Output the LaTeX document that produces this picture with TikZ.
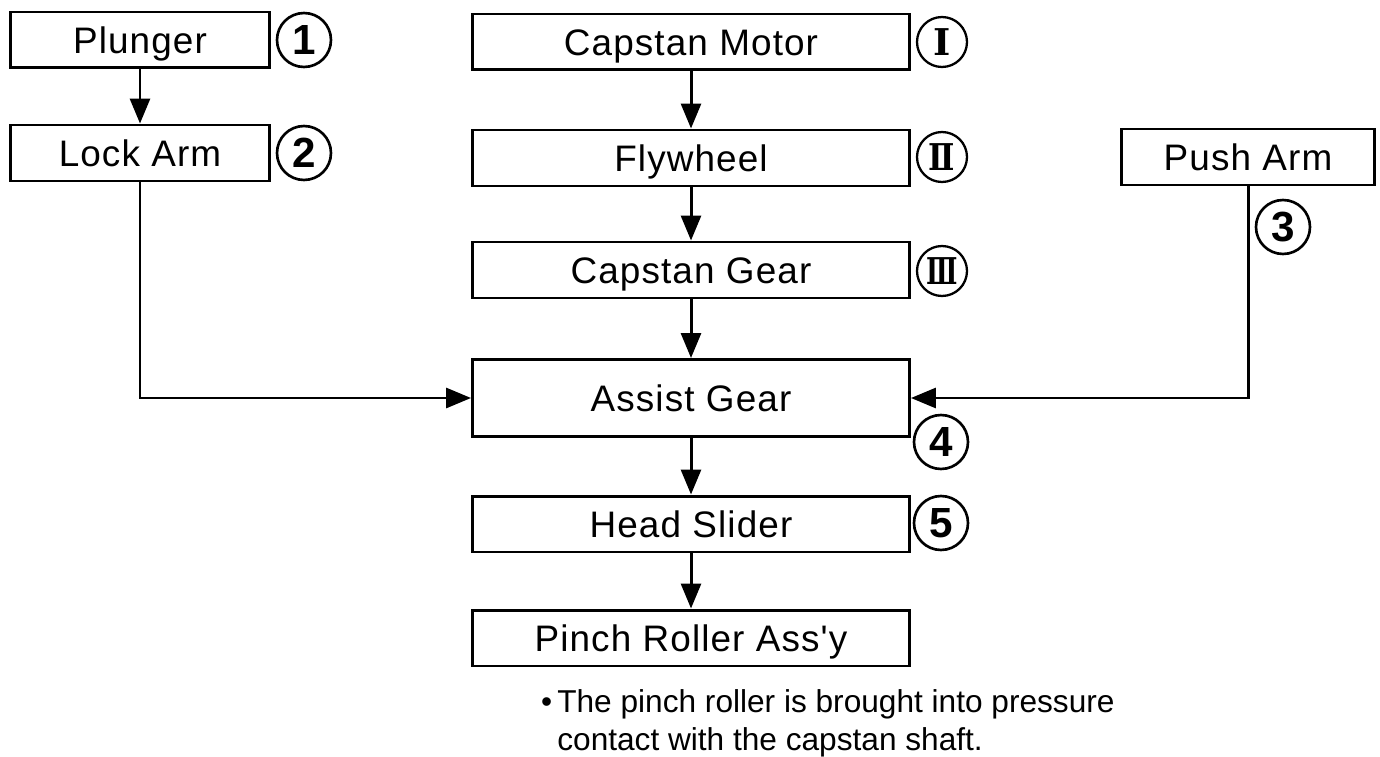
\documentclass[tikz,border=0pt]{standalone}
\usepackage{fontspec}
\setmainfont{Liberation Sans}
\newfontfamily\bloquefont[LetterSpace=3]{Liberation Sans}
\newfontfamily\romfont{DejaVu Serif}
\usetikzlibrary{positioning}
\usetikzlibrary{arrows.meta}
\tikzset{
  bloque/.style={
    rectangle, draw=black, line width=1.7pt, fill=white,
    minimum height=1.12cm, minimum width=8.74cm,
    align=center, font=\fontsize{21}{24}\selectfont\bloquefont,
    text height=15pt, text depth=0pt, inner sep=2pt
  },
  bloquel/.style={bloque, minimum width=5.2cm},
  numero/.style={
    circle, draw=black, line width=1.5pt, minimum size=1.08cm, inner sep=0pt,
    font=\fontsize{24}{26}\selectfont\bfseries
  },
  romano/.style={
    circle, draw=black, line width=1.3pt, minimum size=1.0cm, inner sep=0pt,
    font=\fontsize{21}{24}\selectfont\romfont\bfseries
  },
  flecha/.style={-{Triangle[length=0.5cm, width=0.4cm]}, line width=1.7pt, draw=black},
  nota/.style={anchor=north west, align=left, inner sep=0pt,
    font=\fontsize{18}{21.5}\selectfont}
}
\begin{document}
\begin{tikzpicture}[x=0.02cm, y=-0.02cm]
  \useasboundingbox (0,0) rectangle (1380,757);

  % left column
  \node[bloquel] (plunger) at (140,40) {Plunger};
  \node[bloquel] (lockarm) at (140,153) {Lock Arm};
  \node[numero] (n1) at (304,40) {1};
  \node[numero] (n2) at (304,153) {2};

  % centre column
  \node[bloque] (motor) at (691,42) {Capstan Motor};
  \node[bloque] (flywheel) at (691,158) {Flywheel};
  \node[bloque] (capgear) at (691,270) {Capstan Gear};
  \node[bloque, minimum height=1.54cm] (assist) at (691,398) {Assist Gear};
  \node[bloque] (slider) at (691,524) {Head Slider};
  \node[bloque] (pinch) at (691,638) {Pinch Roller Ass'y};
  \node[romano] (r1) at (942,42) {Ⅰ};
  \node[romano] (r2) at (942,157) {\scalebox{0.85}[1]{Ⅱ}};
  \node[romano] (r3) at (942,271) {\scalebox{0.7}[1]{Ⅲ}};
  \node[numero] (n4) at (941,442) {4};
  \node[numero] (n5) at (941,523) {5};

  % right column
  \node[bloque, minimum width=5.06cm] (pusharm) at (1248,157) {Push Arm};
  \node[numero] (n3) at (1283,227) {3};

  \draw[flecha] (plunger) -- (lockarm);
  \draw[flecha] (lockarm.south) |- (assist.west);
  \draw[flecha] (pusharm.south) |- (assist.east);
  \draw[flecha] (motor) -- (flywheel);
  \draw[flecha] (flywheel) -- (capgear);
  \draw[flecha] (capgear) -- (assist);
  \draw[flecha] (assist) -- (slider);
  \draw[flecha] (slider) -- (pinch);

  \node[nota] (note) at (557,689) {\llap{\textbullet\,}The pinch roller is brought into pressure\\contact with the capstan shaft.};
\end{tikzpicture}
\end{document}
